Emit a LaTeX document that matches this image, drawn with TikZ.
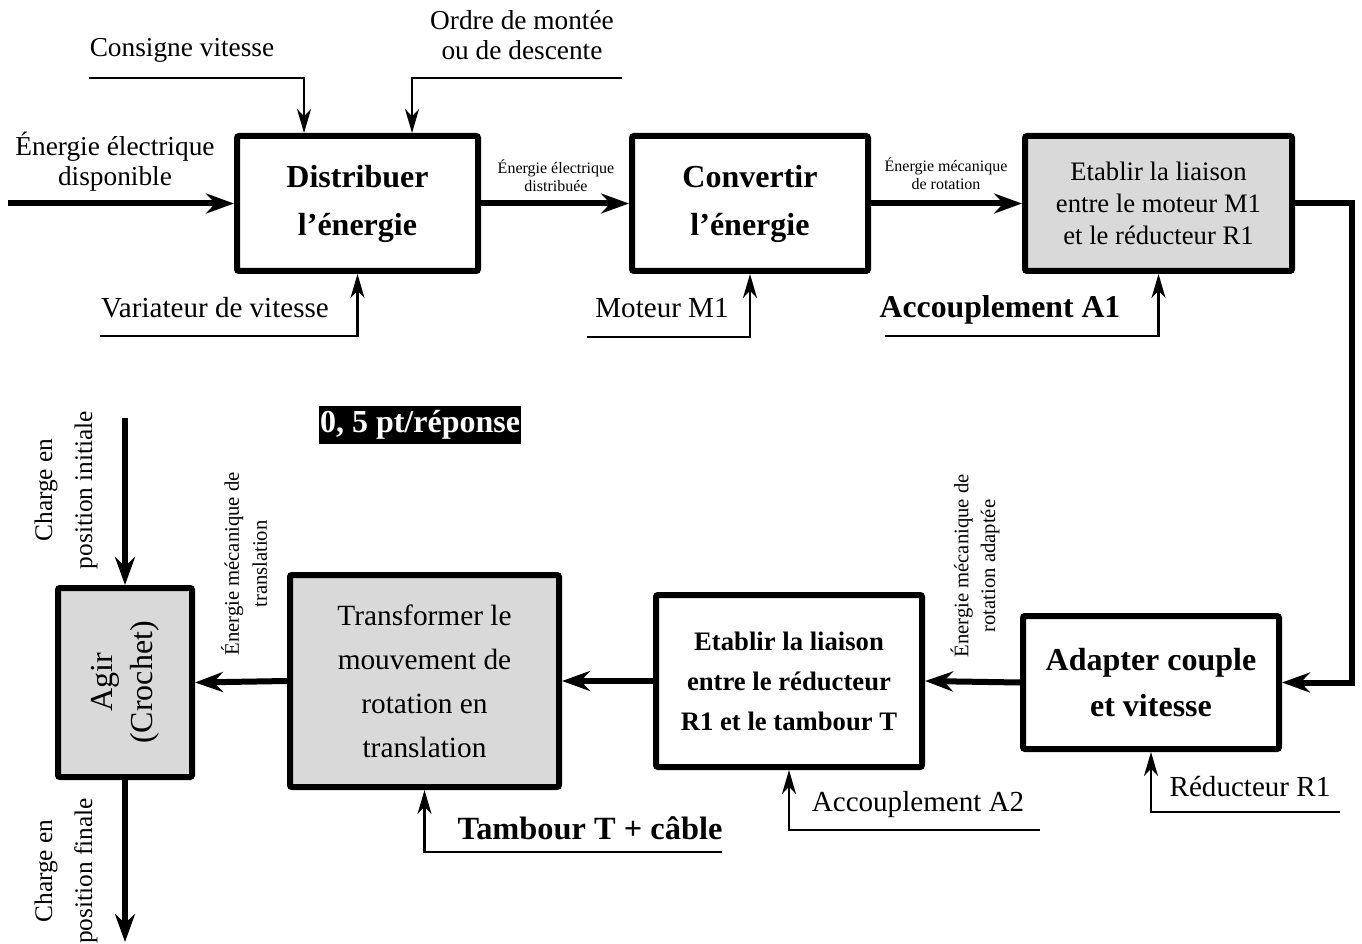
\documentclass[tikz,border=0pt]{standalone}
\usepackage{fontspec}
\setmainfont{Liberation Serif}
\usetikzlibrary{arrows.meta,positioning}

\begin{document}
\begin{tikzpicture}[x=0.75pt,y=-0.75pt,
	bloc/.style={draw,line width=4.5pt,rounded corners=1.5pt,align=center,inner sep=0pt,fill=white},
	blocgris/.style={bloc,fill=black!15},
	flux/.style={line width=4.5pt,-{Stealth[length=21pt,width=15pt,inset=7pt]}},
	commande/.style={line width=1.7pt,-{Stealth[length=18pt,width=10.5pt,inset=5.5pt]}},
	etiq/.style={align=center,inner sep=0pt,font=\fontsize{20.5}{22.5}\selectfont},
	etiqbas/.style={etiq,font=\fontsize{21.8}{24}\selectfont},
	petit/.style={align=center,inner sep=0pt,font=\fontsize{12}{13.5}\selectfont},
	gras/.style={align=center,inner sep=0pt,font=\bfseries\fontsize{23.8}{26}\selectfont}]
				\useasboundingbox (0,0) rectangle (1362,944);
				\node[bloc,minimum width=180.75pt,minimum height=101.25pt,font=\bfseries\fontsize{24}{36}\selectfont] (distribuer) at (357.5,203.5) {Distribuer\\l’énergie};
				\node[bloc,minimum width=177pt,minimum height=101.25pt,font=\bfseries\fontsize{24}{36}\selectfont] (convertir) at (750,203.5) {Convertir\\l’énergie};
				\node[blocgris,minimum width=200.25pt,minimum height=101.25pt,font=\fontsize{20}{24}\selectfont] (liaisonA) at (1158.5,203.5) {Etablir la liaison\\entre le moteur M1\\et le réducteur R1};
				\node[bloc,minimum width=192pt,minimum height=99.75pt,font=\bfseries\fontsize{24}{35}\selectfont] (adapter) at (1151,682.5) {Adapter couple\\et vitesse};
				\node[bloc,minimum width=199.5pt,minimum height=129pt,font=\bfseries\fontsize{20}{30}\selectfont] (liaisonB) at (789,681) {Etablir la liaison\\entre le réducteur\\R1 et le tambour T};
				\node[blocgris,minimum width=201.75pt,minimum height=159pt,font=\fontsize{22}{33}\selectfont] (transformer) at (424.5,681) {Transformer le\\mouvement de\\rotation en\\translation};
				\node[blocgris,minimum width=100.5pt,minimum height=141.75pt] (agir) at (125,682.5) {};
				\node[rotate=90,align=center,font=\fontsize{24}{30}\selectfont] (agirtxt) at (agir.center) {Agir\\(Crochet)};
				\coordinate (e0) at (8,203.5);
				\draw[flux] (e0) -- (distribuer.west);
				\draw[flux] (distribuer.east) -- (convertir.west);
				\draw[flux] (convertir.east) -- (liaisonA.west);
				\draw[flux] (liaisonA.east) -- ++(57,0) |- (adapter.east);
				\draw[flux] (adapter.west) -- (liaisonB.east);
				\draw[flux] (liaisonB.west) -- (transformer.east);
				\draw[flux] (transformer.west) -- (agir.east);
				\coordinate (ci) at (125,418);
				\coordinate (cf) at (125,942);
				\draw[flux] (ci) -- (agir.north);
				\draw[flux] (agir.south) -- (cf);
				\coordinate (cv) at (89,78);
				\coordinate (om) at (622,78);
				\coordinate (vv) at (100,336);
				\coordinate (mm) at (587,337);
				\coordinate (ac1) at (885,336);
				\coordinate (tc) at (722,852);
				\coordinate (ac2) at (1040,830);
				\coordinate (rd) at (1340,812);
				\draw[commande] (cv) -| ([xshift=-40.1pt]distribuer.north);
				\draw[commande] (om) -| ([xshift=40.9pt]distribuer.north);
				\draw[commande] (vv) -| (distribuer.south);
				\draw[commande] (mm) -| (convertir.south);
				\draw[commande] (ac1) -| (liaisonA.south);
				\draw[commande] (tc) -| (transformer.south);
				\draw[commande] (ac2) -| (liaisonB.south);
				\draw[commande] (rd) -| (adapter.south);
				\node[etiq] (consvit) at (182,50) {Consigne vitesse};
				\node[etiq] (ordre) at (522,35) {Ordre de montée\\ou de descente};
				\node[etiq] (eedisp) at (115,162) {Énergie électrique\\disponible};
				\node[etiqbas] (variat) at (215,308) {Variateur de vitesse};
				\node[etiqbas] (moteur) at (662,308) {Moteur M1};
				\node[gras] (accA) at (1000,310) {Accouplement A1};
				\node[petit] (eedist) at (556,176) {Énergie électrique\\distribuée};
				\node[petit] (emrot) at (946,174) {Énergie mécanique\\de rotation};
				\node[fill=black,text=white,inner xsep=1pt,inner ysep=3pt,font=\bfseries\fontsize{24}{24}\selectfont] (bareme) at (420,425) {0, 5 pt/réponse};
				\node[etiq,rotate=90,font=\fontsize{19}{30}\selectfont] (chini) at (66,490) {Charge en\\position initiale};
				\node[etiq,rotate=90,font=\fontsize{19}{30}\selectfont] (chfin) at (66,871) {Charge en\\position finale};
				\node[etiq,rotate=90,font=\fontsize{15.5}{21}\selectfont] (emtrans) at (244,564) {Énergie mécanique de\\translation};
				\node[etiq,rotate=90,font=\fontsize{15.5}{20}\selectfont] (emadapt) at (975,566) {Énergie mécanique de\\rotation adaptée};
				\node[gras,font=\bfseries\fontsize{24.3}{26}\selectfont] (tambour) at (590,828) {Tambour T + câble};
				\node[etiqbas] (accB) at (918,805) {Accouplement A2};
				\node[etiqbas] (reduc) at (1250,787) {Réducteur R1};
			\end{tikzpicture}
\end{document}
